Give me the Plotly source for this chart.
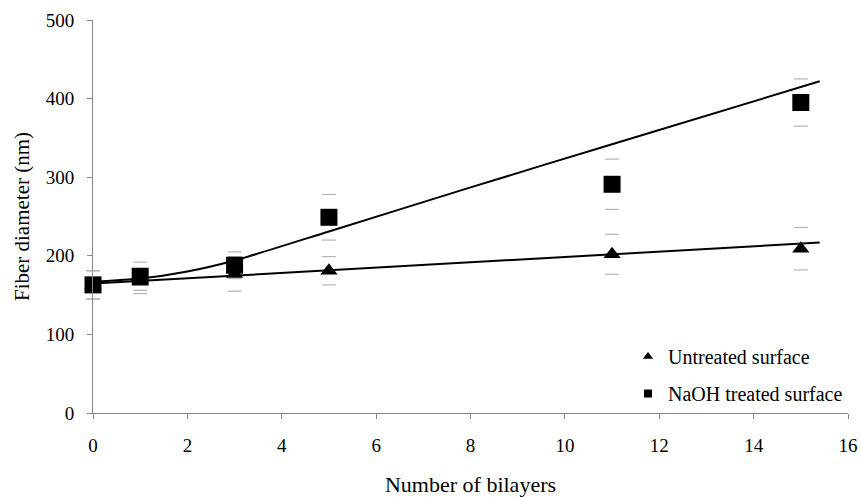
import numpy as np
import plotly.graph_objects as go

bilayers = [0, 1, 3, 5, 11, 15]
untreated = [163, 167, 177, 181, 202, 209]
untreated_err = [18, 15, 22, 18, 25.5, 27]
naoh = [163, 174, 188, 249, 291, 395]
naoh_err = [18, 18, 17, 29, 32, 30]

# trend lines
trend_untreated_x = [0, 15.4]
trend_untreated_y = [164.6, 216.8]
trend_naoh_x = [0, 1, 2, 3, 5, 8, 11, 15.4]
trend_naoh_y = [167, 171, 180, 194, 231, 287, 342, 422]

x_ticks = [0, 2, 4, 6, 8, 10, 12, 14, 16]
y_ticks = [0, 100, 200, 300, 400, 500]

FONT = "Liberation Serif, Times New Roman, serif"
CAP_COLOR = "#b4b4b4"

fig = go.Figure()

# error caps only (no stems), drawn as horizontal dash markers
for yv, ev in ((untreated, untreated_err), (naoh, naoh_err)):
    yv = np.array(yv, dtype=float)
    ev = np.array(ev, dtype=float)
    for caps in (yv + ev, yv - ev):
        fig.add_trace(go.Scatter(
            x=bilayers, y=caps, mode="markers", showlegend=False,
            cliponaxis=False, hoverinfo="skip",
            marker=dict(symbol="line-ew", size=10,
                        line=dict(color=CAP_COLOR, width=1.2)),
        ))

fig.add_trace(go.Scatter(
    x=bilayers, y=untreated, mode="markers", showlegend=False,
    cliponaxis=False,
    marker=dict(symbol="triangle-up", size=15, color="black"),
))
fig.add_trace(go.Scatter(
    x=bilayers, y=naoh, mode="markers", showlegend=False,
    cliponaxis=False,
    marker=dict(symbol="square", size=17, color="black"),
))

fig.add_trace(go.Scatter(
    x=trend_untreated_x, y=trend_untreated_y, mode="lines",
    showlegend=False, line=dict(color="black", width=2),
))
fig.add_trace(go.Scatter(
    x=trend_naoh_x, y=trend_naoh_y, mode="lines", showlegend=False,
    line=dict(color="black", width=2, shape="spline", smoothing=0.6),
))

# legend entries
fig.add_trace(go.Scatter(
    x=[None], y=[None], mode="markers", name="Untreated surface",
    legendgroup="a",
    marker=dict(symbol="triangle-up", size=9, color="black"),
))
fig.add_trace(go.Scatter(
    x=[None], y=[None], mode="markers", name="NaOH treated surface",
    legendgroup="b",
    marker=dict(symbol="square", size=8, color="black"),
))

axis_common = dict(
    showgrid=False, zeroline=False, showline=True, automargin=False,
    linecolor="#868686", linewidth=1,
    ticks="outside", ticklen=5, tickcolor="#868686", tickwidth=1,
    tickfont=dict(family=FONT, size=19, color="black"),
    ticklabeloverflow="allow",
)

fig.update_layout(
    width=861, height=497,
    margin=dict(l=93, r=13, t=20, b=84),
    paper_bgcolor="white", plot_bgcolor="white",
    font=dict(family=FONT, size=18, color="black"),
    xaxis=dict(
        range=[0, 16], tickvals=x_ticks, ticklabelstandoff=10,
        title=dict(text="Number of bilayers", standoff=28,
                   font=dict(family=FONT, size=22)),
        **axis_common,
    ),
    yaxis=dict(
        range=[0, 500], tickvals=y_ticks, ticklabelstandoff=9,
        title=dict(text="Fiber diameter (nm)", standoff=10,
                   font=dict(family=FONT, size=21)),
        **axis_common,
    ),
    legend=dict(
        x=1.0, xanchor="right", y=0.0, yanchor="bottom",
        bgcolor="rgba(0,0,0,0)", tracegroupgap=8,
        font=dict(family=FONT, size=20, color="black"),
        itemwidth=30,
    ),
)

fig.write_html(
    "out.html",
    config={"displayModeBar": False},
    post_script="document.body.style.margin='0';"
                "document.body.style.overflow='hidden';",
)
